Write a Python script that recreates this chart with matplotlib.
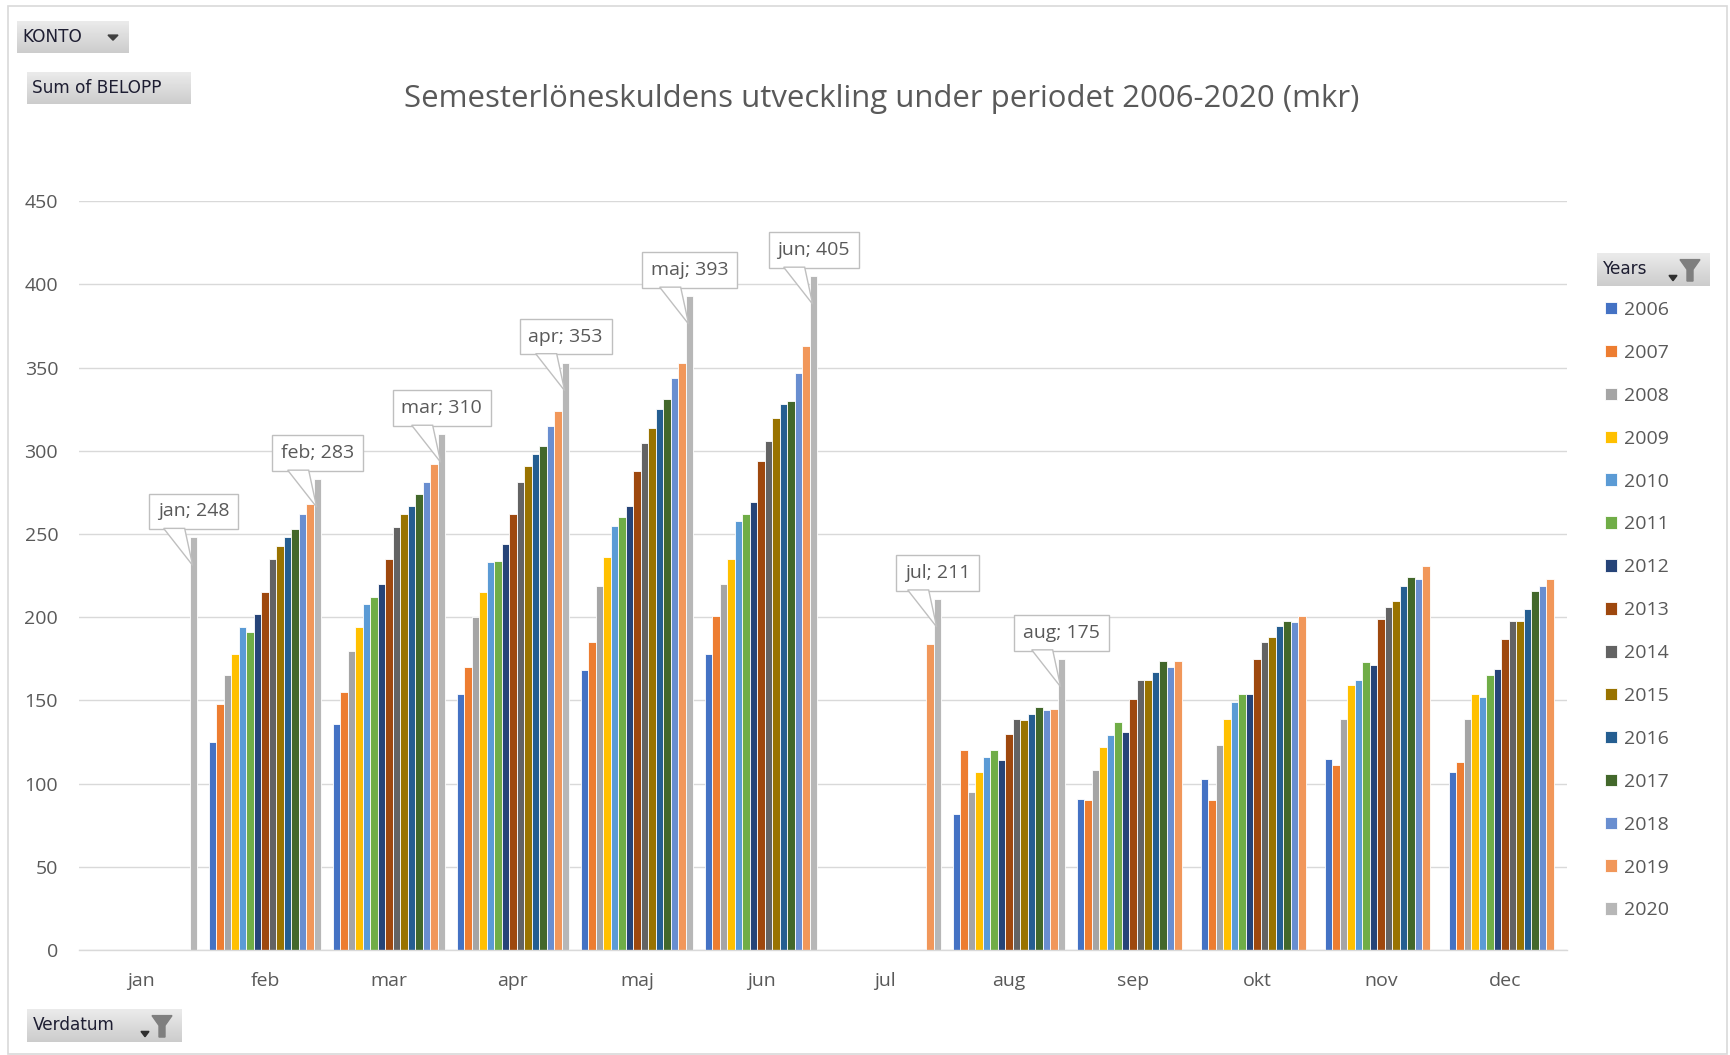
import numpy as np
import matplotlib
matplotlib.use("Agg")
import matplotlib.pyplot as plt
from matplotlib.patches import Rectangle, Polygon
from matplotlib.transforms import IdentityTransform

# ---------------- data ----------------
months = ["jan", "feb", "mar", "apr", "maj", "jun", "jul", "aug", "sep", "okt", "nov", "dec"]
years = ["2006", "2007", "2008", "2009", "2010", "2011", "2012", "2013",
         "2014", "2015", "2016", "2017", "2018", "2019", "2020"]
nan = np.nan
v2006 = [nan, 125, 136, 154, 168, 178, nan, 82, 91, 103, 115, 107]
v2007 = [nan, 148, 155, 170, 185, 201, nan, 120, 90, 90, 111, 113]
v2008 = [nan, 165, 180, 200, 219, 220, nan, 95, 108, 123, 139, 139]
v2009 = [nan, 178, 194, 215, 236, 235, nan, 107, 122, 139, 159, 154]
v2010 = [nan, 194, 208, 233, 255, 258, nan, 116, 129, 149, 162, 152]
v2011 = [nan, 191, 212, 234, 260, 262, nan, 120, 137, 154, 173, 165]
v2012 = [nan, 202, 220, 244, 267, 269, nan, 114, 131, 154, 171, 169]
v2013 = [nan, 215, 235, 262, 288, 294, nan, 130, 151, 175, 199, 187]
v2014 = [nan, 235, 254, 281, 305, 306, nan, 139, 162, 185, 206, 198]
v2015 = [nan, 243, 262, 291, 314, 320, nan, 138, 162, 188, 210, 198]
v2016 = [nan, 248, 267, 298, 325, 328, nan, 142, 167, 195, 219, 205]
v2017 = [nan, 253, 274, 303, 331, 330, nan, 146, 174, 198, 224, 216]
v2018 = [nan, 262, 281, 315, 344, 347, nan, 144, 170, 197, 223, 219]
v2019 = [nan, 268, 292, 324, 353, 363, 184, 145, 174, 201, 231, 223]
v2020 = [248, 283, 310, 353, 393, 405, 211, 175, nan, nan, nan, nan]
series = [v2006, v2007, v2008, v2009, v2010, v2011, v2012, v2013,
          v2014, v2015, v2016, v2017, v2018, v2019, v2020]

colors = ["#4472C4", "#ED7D31", "#A5A5A5", "#FFC000", "#5B9BD5", "#70AD47",
          "#264478", "#9E480E", "#636363", "#997300", "#255E91", "#43682B",
          "#698ED0", "#F1975A", "#B7B7B7"]

title = "Semesterlöneskuldens utveckling under periodet 2006-2020 (mkr)"
yticks = [0, 50, 100, 150, 200, 250, 300, 350, 400, 450]

# ---------------- figure ----------------
W, H, DPI = 1731, 1055, 100
plt.rcParams["font.family"] = ["Open Sans", "DejaVu Sans"]
fig = plt.figure(figsize=(W / DPI, H / DPI), dpi=DPI)
fig.patch.set_facecolor("white")

def px_rect(x0, y0, x1, y1):
    return [x0 / W, 1 - y1 / H, (x1 - x0) / W, (y1 - y0) / H]

ax = fig.add_axes(px_rect(79, 201.3, 1567, 950))
TXT = "#595959"
GRID = "#D9D9D9"

n = len(series)
group = 0.91
slot = group / n
x = np.arange(len(months))
containers = []
for i, (vals, c, yr) in enumerate(zip(series, colors, years)):
    off = (i - (n - 1) / 2) * slot
    bc = ax.bar(x + off, vals, width=slot, color=c, edgecolor="white",
                linewidth=0.6, label=yr, zorder=2)
    containers.append(bc)

ax.set_xlim(-0.5, len(months) - 0.5)
ax.set_ylim(0, 450)
ax.set_yticks(yticks)
ax.set_xticks(x)
ax.set_xticklabels(months)
ax.tick_params(axis="both", length=0, labelsize=14, labelcolor=TXT)
ax.tick_params(axis="y", pad=15)
ax.tick_params(axis="x", pad=16)
ax.grid(axis="y", color=GRID, linewidth=1.0, zorder=0)
ax.set_axisbelow(True)
for s in ["top", "right", "left"]:
    ax.spines[s].set_visible(False)
ax.spines["bottom"].set_color(GRID)
ax.spines["bottom"].set_linewidth(1.0)

# ---------------- callouts for 2020 ----------------
off20 = (n - 1 - (n - 1) / 2) * slot
fig.canvas.draw()
for mi, (m, v) in enumerate(zip(months, v2020)):
    if np.isnan(v):
        continue
    bx, by = ax.transData.transform((mi + off20, v))
    poly = Polygon([(bx - 30, by + 9), (bx - 9, by + 9), (bx - 1, by - 28)],
                   closed=True, facecolor="white", edgecolor="#BFBFBF",
                   linewidth=1.0, transform=IdentityTransform(), zorder=5)
    fig.add_artist(poly)
    ax.annotate(f"{m}; {int(v)}", xy=(mi + off20, v), xytext=(0, 26),
                textcoords="offset pixels", ha="center", va="center",
                fontsize=14, color=TXT, zorder=6,
                bbox=dict(boxstyle="square,pad=0.45", fc="white",
                          ec="#BFBFBF", lw=1.0))

# ---------------- title ----------------
fig.text(882 / W, 1 - 99 / H, title, ha="center", va="center",
         fontsize=22.4, color=TXT)

# ---------------- legend ----------------
leg = fig.legend(handles=containers, labels=years, loc="upper left",
                 bbox_to_anchor=(1605 / W, 1 - 301 / H), frameon=False,
                 fontsize=14, labelcolor=TXT, handlelength=0.62,
                 handleheight=0.62, handletextpad=0.35, labelspacing=1.28,
                 borderpad=0, borderaxespad=0)

# ---------------- pivot field buttons ----------------
grad = np.linspace(0.92, 0.80, 50).reshape(-1, 1)

def button(x0, y0, x1, y1, text, arrow=False, funnel=False):
    bax = fig.add_axes(px_rect(x0, y0, x1, y1))
    bax.imshow(grad, cmap="gray", vmin=0, vmax=1, aspect="auto",
               extent=(0, 1, 0, 1), interpolation="bicubic")
    bax.set_xlim(0, 1)
    bax.set_ylim(0, 1)
    bax.set_axis_off()
    bw = x1 - x0
    bax.text(5.5 / bw, 0.5, text, ha="left", va="center", fontsize=12.2,
             color="#1E1E32", family="DejaVu Sans")
    if arrow:
        cx = 1 - 16 / bw
        bax.add_patch(Polygon([(cx - 5 / bw, 0.56), (cx + 5 / bw, 0.56), (cx, 0.40)],
                              closed=True, color="#404040"))
    if funnel:
        fx = 1 - 20 / bw
        bax.add_patch(Polygon([(fx - 10 / bw, 0.80), (fx + 10 / bw, 0.80),
                               (fx + 3 / bw, 0.50), (fx + 3 / bw, 0.15),
                               (fx - 3 / bw, 0.15), (fx - 3 / bw, 0.50)],
                              closed=True, color="#7F7F7F"))
        ax_ = fx - 17 / bw
        bax.add_patch(Polygon([(ax_ - 4 / bw, 0.32), (ax_ + 4 / bw, 0.32), (ax_, 0.16)],
                              closed=True, color="#303030"))

button(17, 21, 129, 53, "KONTO", arrow=True)
button(27, 72, 191, 104, "Sum of BELOPP")
button(27, 1009, 182, 1042, "Verdatum", funnel=True)
button(1597, 253, 1710, 286, "Years", funnel=True)

# ---------------- chart border ----------------
fig.add_artist(Rectangle((8 / W, 1 - 1054 / H), (1727 - 8) / W, (1054 - 6) / H,
                         transform=fig.transFigure, fill=False,
                         edgecolor="#D9D9D9", linewidth=1.2))

fig.savefig("out.png", dpi=DPI, facecolor="white")
